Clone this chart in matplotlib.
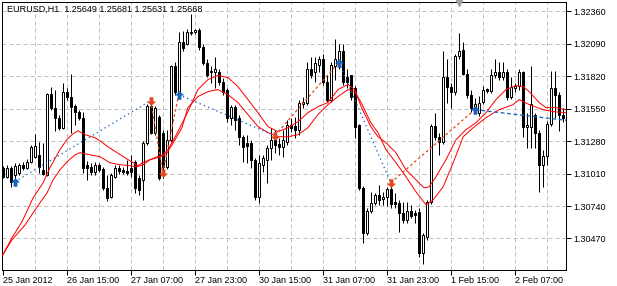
import numpy as np
import matplotlib
matplotlib.use('Agg')
import matplotlib.pyplot as plt
from matplotlib.path import Path
import matplotlib.transforms as mtransforms

# EURUSD H1 bars (25 Jan 2012 23:00 ...)
open_ = [1.31058, 1.30983, 1.31058, 1.31000, 1.31017, 1.31083, 1.31058, 1.31108, 1.31150, 1.31166,
         1.31041, 1.31000, 1.31675, 1.31558, 1.31475, 1.31391, 1.31691, 1.31650, 1.31575, 1.31525,
         1.31475, 1.31083, 1.31066, 1.31025, 1.31083, 1.31050, 1.30891, 1.30816, 1.30983, 1.31058,
         1.31041, 1.31033, 1.31058, 1.31108, 1.30975, 1.30958, 1.31266, 1.31575, 1.31350, 1.31483,
         1.31350, 1.31066, 1.31291, 1.31900, 1.31691, 1.32100, 1.32083, 1.32183, 1.32183, 1.32200,
         1.32058, 1.31933, 1.31850, 1.31858, 1.31858, 1.31775, 1.31708, 1.31475, 1.31566, 1.31475,
         1.31316, 1.31266, 1.31266, 1.31125, 1.30816, 1.31083, 1.31125, 1.31225, 1.31291, 1.31258,
         1.31233, 1.31275, 1.31416, 1.31408, 1.31375, 1.31591, 1.31600, 1.31875, 1.31858, 1.31916,
         1.31966, 1.31775, 1.31625, 1.31900, 1.31933, 1.32025, 1.31816, 1.31825, 1.31725, 1.31416,
         1.30891, 1.30516, 1.30700, 1.30766, 1.30833, 1.30800, 1.30816, 1.30883, 1.30775, 1.30766,
         1.30683, 1.30625, 1.30700, 1.30683, 1.30691, 1.30350, 1.30483, 1.30775, 1.31408, 1.31316,
         1.31275, 1.31816, 1.31733, 1.31691, 1.31983, 1.32033, 1.31841, 1.31666, 1.31541, 1.31516,
         1.31608, 1.31716, 1.31700, 1.31825, 1.31850, 1.31816, 1.31858, 1.31650, 1.31725, 1.31741,
         1.31858, 1.31400, 1.31400, 1.31500, 1.31350, 1.31083, 1.31158, 1.31425, 1.31725, 1.31666,
         1.31500]
high = [1.31075, 1.31083, 1.31075, 1.31100, 1.31100, 1.31108, 1.31133, 1.31250, 1.31342, 1.31275,
        1.31266, 1.31683, 1.31733, 1.31708, 1.31500, 1.31766, 1.31725, 1.31841, 1.31591, 1.31541,
        1.31525, 1.31116, 1.31100, 1.31108, 1.31100, 1.31066, 1.31000, 1.31016, 1.31083, 1.31083,
        1.31066, 1.31125, 1.31166, 1.31125, 1.31000, 1.31283, 1.31591, 1.31625, 1.31575, 1.31500,
        1.31375, 1.31375, 1.31916, 1.31941, 1.32183, 1.32191, 1.32208, 1.32333, 1.32208, 1.32216,
        1.32083, 1.31958, 1.31900, 1.31975, 1.31875, 1.31808, 1.31725, 1.31583, 1.31583, 1.31500,
        1.31333, 1.31333, 1.31291, 1.31141, 1.31166, 1.31166, 1.31250, 1.31391, 1.31375, 1.31308,
        1.31375, 1.31458, 1.31475, 1.31483, 1.31625, 1.31650, 1.31941, 1.31975, 1.31975, 1.31983,
        1.32000, 1.31833, 1.31941, 1.32125, 1.32083, 1.32083, 1.31875, 1.31833, 1.31741, 1.31425,
        1.30908, 1.30725, 1.30858, 1.30850, 1.30916, 1.30858, 1.30900, 1.30933, 1.30850, 1.30791,
        1.30775, 1.30775, 1.30750, 1.30708, 1.30725, 1.30516, 1.30791, 1.31425, 1.31516, 1.31350,
        1.32025, 1.31958, 1.31766, 1.32000, 1.32175, 1.32100, 1.31875, 1.31708, 1.31641, 1.31658,
        1.31741, 1.31725, 1.31875, 1.31958, 1.31941, 1.31941, 1.31875, 1.31816, 1.31766, 1.31875,
        1.31866, 1.31516, 1.31900, 1.31516, 1.31375, 1.31208, 1.31450, 1.31866, 1.31866, 1.31691,
        1.31558]
low = [1.30975, 1.30975, 1.30900, 1.30950, 1.31000, 1.31041, 1.31050, 1.31100, 1.31141, 1.31016,
       1.31000, 1.30991, 1.31541, 1.31366, 1.31375, 1.31383, 1.31625, 1.31350, 1.31416, 1.31458,
       1.31016, 1.30958, 1.31000, 1.31000, 1.31025, 1.30875, 1.30783, 1.30808, 1.30975, 1.31008,
       1.31008, 1.31000, 1.30983, 1.30850, 1.30833, 1.30791, 1.31250, 1.31342, 1.31333, 1.30958,
       1.30975, 1.31050, 1.31275, 1.31666, 1.31666, 1.32025, 1.32075, 1.32158, 1.32166, 1.32041,
       1.31916, 1.31816, 1.31766, 1.31725, 1.31750, 1.31666, 1.31441, 1.31416, 1.31375, 1.31250,
       1.31108, 1.31100, 1.31058, 1.30791, 1.30766, 1.31025, 1.30933, 1.31125, 1.31183, 1.31166,
       1.31150, 1.31250, 1.31358, 1.31308, 1.31333, 1.31558, 1.31583, 1.31808, 1.31775, 1.31858,
       1.31750, 1.31608, 1.31608, 1.31791, 1.31875, 1.31750, 1.31725, 1.31625, 1.31308, 1.30875,
       1.30433, 1.30500, 1.30683, 1.30750, 1.30750, 1.30750, 1.30741, 1.30725, 1.30725, 1.30525,
       1.30600, 1.30600, 1.30641, 1.30600, 1.30316, 1.30258, 1.30458, 1.30758, 1.31291, 1.31166,
       1.31258, 1.31600, 1.31558, 1.31666, 1.31958, 1.31825, 1.31641, 1.31525, 1.31525, 1.31491,
       1.31591, 1.31683, 1.31683, 1.31808, 1.31791, 1.31791, 1.31625, 1.31633, 1.31691, 1.31708,
       1.31316, 1.31225, 1.31225, 1.31225, 1.30858, 1.30900, 1.31083, 1.31408, 1.31475, 1.31366,
       1.31441]
close = [1.30983, 1.31058, 1.30942, 1.31075, 1.31083, 1.31058, 1.31108, 1.31233, 1.31242, 1.31066,
         1.31008, 1.31675, 1.31558, 1.31475, 1.31391, 1.31691, 1.31650, 1.31566, 1.31525, 1.31475,
         1.31058, 1.31058, 1.31025, 1.31083, 1.31041, 1.30891, 1.30808, 1.31000, 1.31058, 1.31033,
         1.31025, 1.31016, 1.31025, 1.30891, 1.30875, 1.31266, 1.31575, 1.31350, 1.31558, 1.30975,
         1.31066, 1.31291, 1.31900, 1.31691, 1.32100, 1.32050, 1.32183, 1.32175, 1.32200, 1.32058,
         1.31933, 1.31833, 1.31866, 1.31875, 1.31775, 1.31691, 1.31475, 1.31566, 1.31458, 1.31316,
         1.31233, 1.31241, 1.31125, 1.30816, 1.31100, 1.31141, 1.31225, 1.31291, 1.31250, 1.31233,
         1.31291, 1.31416, 1.31391, 1.31375, 1.31600, 1.31608, 1.31875, 1.31833, 1.31933, 1.31966,
         1.31775, 1.31625, 1.31916, 1.31958, 1.32025, 1.31775, 1.31775, 1.31650, 1.31400, 1.30891,
         1.30516, 1.30700, 1.30766, 1.30833, 1.30791, 1.30816, 1.30883, 1.30758, 1.30758, 1.30683,
         1.30625, 1.30700, 1.30658, 1.30666, 1.30350, 1.30500, 1.30775, 1.31408, 1.31316, 1.31275,
         1.31816, 1.31733, 1.31691, 1.31983, 1.32025, 1.31841, 1.31666, 1.31558, 1.31591, 1.31600,
         1.31708, 1.31700, 1.31825, 1.31850, 1.31816, 1.31858, 1.31650, 1.31733, 1.31741, 1.31850,
         1.31400, 1.31416, 1.31591, 1.31350, 1.31083, 1.31158, 1.31425, 1.31725, 1.31666, 1.31500,
         1.31475]

# two red moving averages (bar index, price)
ma1_bar = [0, 2.3, 4.8, 7.6, 10.1, 11.8, 14.3, 16, 17.6, 18.8, 20.6, 23, 24.3, 26.3, 28.6, 30.6,
           32.6, 33.8, 35, 36.8, 38.6, 40, 41.3, 43, 44.3, 46.3, 48.8, 51.3, 53.8, 56.3, 58.8,
           61.3, 63.8, 66.3, 68.8, 71.3, 73.8, 76.3, 78.8, 81.3, 83.8, 86.3, 88, 89.6, 92, 93.8,
           95.8, 98.3, 100.8, 103.3, 105.3, 106.6, 108.3, 110.8, 113.3, 115.8, 118.3, 120.8,
           123.3, 125.8, 128.3, 130.1, 131.6, 134.1, 135.8, 138.3, 140.8]
ma1_val = [1.30333, 1.30475, 1.30608, 1.30808, 1.30933, 1.31058, 1.31208, 1.31291, 1.31341,
           1.31366, 1.31333, 1.31308, 1.31283, 1.31233, 1.31183, 1.31141, 1.31100, 1.31075,
           1.31100, 1.31125, 1.31141, 1.31166, 1.31208, 1.31308, 1.31391, 1.31525, 1.31708,
           1.31791, 1.31825, 1.31808, 1.31733, 1.31625, 1.31516, 1.31400, 1.31358, 1.31391,
           1.31441, 1.31516, 1.31566, 1.31600, 1.31708, 1.31750, 1.31708, 1.31566, 1.31400,
           1.31316, 1.31266, 1.31183, 1.31041, 1.30958, 1.30891, 1.30900, 1.30983, 1.31125,
           1.31291, 1.31375, 1.31433, 1.31516, 1.31625, 1.31708, 1.31741, 1.31733, 1.31691,
           1.31600, 1.31558, 1.31558, 1.31541]
ma2_bar = [0, 2.3, 5.6, 8.1, 9.3, 11.1, 12.6, 14.3, 16.1, 18.1, 19.3, 21.8, 24.3, 26.8, 29.3,
           31.8, 33.6, 35.1, 36.8, 38.6, 40.1, 41.1, 43.1, 44.8, 46.3, 48.8, 51.3, 53.8, 56.3,
           58.8, 61.3, 63.8, 66.3, 68.8, 71.3, 73.8, 76.3, 78.8, 81.3, 83.8, 86.3, 88, 89.6, 92,
           93.8, 95.8, 98.3, 100.8, 103.3, 105.8, 107.6, 110.1, 112.6, 115.1, 117.6, 120.8,
           124.1, 127.6, 129.1, 131.6, 135.1, 137.6, 140.8]
ma2_val = [1.30333, 1.30458, 1.30583, 1.30708, 1.30766, 1.30850, 1.30958, 1.31041, 1.31108,
           1.31166, 1.31183, 1.31166, 1.31150, 1.31100, 1.31083, 1.31075, 1.31066, 1.31083,
           1.31125, 1.31150, 1.31158, 1.31183, 1.31291, 1.31391, 1.31558, 1.31650, 1.31691,
           1.31708, 1.31666, 1.31600, 1.31500, 1.31400, 1.31350, 1.31316, 1.31316, 1.31333,
           1.31391, 1.31500, 1.31583, 1.31650, 1.31708, 1.31691, 1.31600, 1.31433, 1.31350,
           1.31208, 1.31100, 1.30983, 1.30858, 1.30750, 1.30791, 1.30900, 1.31100, 1.31316,
           1.31391, 1.31475, 1.31541, 1.31583, 1.31625, 1.31583, 1.31541, 1.31525, 1.31516]

# zigzag style indicator points
zz_bar = [3, 37, 40, 44, 68, 84, 97, 118, 141.5]
zz_val = [1.30941, 1.31616, 1.31016, 1.31666, 1.31325, 1.31933, 1.30933, 1.31541, 1.31450]
zz_kind = ['up', 'down', 'down', 'up', 'down', 'up', 'down', 'up', None]

tick_bars = [0, 16, 32, 48, 64, 80, 96, 112, 128]
tick_text = ['25 Jan 2012', '26 Jan 15:00', '27 Jan 07:00', '27 Jan 23:00', '30 Jan 15:00',
             '31 Jan 07:00', '31 Jan 23:00', '1 Feb 15:00', '2 Feb 07:00']
price_ticks = [1.30470, 1.30740, 1.31010, 1.31280, 1.31550, 1.31820, 1.32090, 1.32360]
header = 'EURUSD,H1  1.25649 1.25681 1.25631 1.25668'

plt.rcParams['font.family'] = ['Liberation Sans', 'DejaVu Sans']
FS = 6.5
PX = 0.72  # one pixel in points at dpi 100

fig = plt.figure(figsize=(6.17, 2.86), dpi=100)
ax = fig.add_axes([2 / 617, 16 / 286, 564 / 617, 268 / 286])

x = np.arange(len(open_))
o = np.array(open_)
c = np.array(close)

# grid
ax.set_xticks(tick_bars)
ax.set_xticks(np.arange(8, 141, 16), minor=True)
ax.set_yticks(price_ticks)
for xv in list(tick_bars[1:]) + list(np.arange(8, 141, 16)):
    ax.axvline(xv, color='#c0c0c0', lw=PX, dashes=(4, 3), zorder=0)
for yv in price_ticks:
    ax.axhline(yv, color='#c0c0c0', lw=PX, dashes=(4, 3), zorder=0)

# candles
ax.vlines(x, low, high, color='black', lw=PX, zorder=2)
up = c >= o
bottoms = np.minimum(o, c)
heights = np.abs(c - o)
ax.bar(x[up], heights[up], bottom=bottoms[up], width=0.5, facecolor='white',
       edgecolor='black', linewidth=PX, zorder=3)
ax.bar(x[~up], heights[~up], bottom=bottoms[~up], width=0.5, facecolor='black',
       edgecolor='black', linewidth=PX, zorder=3)

# moving averages
ax.plot(ma1_bar, ma1_val, color='#ff0000', lw=PX, zorder=4)
ax.plot(ma2_bar, ma2_val, color='#ff0000', lw=PX, zorder=4)

# zigzag segments
blue = '#1565c0'
red = '#e8471c'
for i in range(len(zz_bar) - 1):
    seg_x = [zz_bar[i], zz_bar[i + 1]]
    seg_y = [zz_val[i], zz_val[i + 1]]
    if i == len(zz_bar) - 2:
        ax.plot(seg_x, seg_y, color=blue, lw=PX * 1.3, dashes=(3, 2), zorder=5)
    elif zz_kind[i] == 'up':
        ax.plot(seg_x, seg_y, color=blue, lw=PX * 1.3, dashes=(1, 2.5), zorder=5)
    else:
        ax.plot(seg_x, seg_y, color=red, lw=PX * 1.3, dashes=(2, 2), zorder=5)

arrow_up = Path([(0, 1), (-1, 0.1), (-0.4, 0.1), (-0.4, -1), (0.4, -1), (0.4, 0.1), (1, 0.1), (0, 1)])
arrow_dn = Path([(0, -1), (-1, -0.1), (-0.4, -0.1), (-0.4, 1), (0.4, 1), (0.4, -0.1), (1, -0.1), (0, -1)])
for b, v, k in zip(zz_bar, zz_val, zz_kind):
    if k == 'up':
        ax.plot(b, v, marker=arrow_up, ms=5.5, color=blue, mec=blue, mew=0.5, zorder=6)
    elif k == 'down':
        ax.plot(b, v, marker=arrow_dn, ms=5.5, color=red, mec=red, mew=0.5, zorder=6)

# chart shift marker at the top
trans = mtransforms.blended_transform_factory(ax.transData, ax.transAxes)
ax.plot(114, 0.995, marker='v', ms=5, color='#a0a0a0', transform=trans, clip_on=False, zorder=7)

ax.set_xlim(-0.175, 140.8)
ax.set_ylim(1.30208, 1.32436)

ax.set_xticklabels(tick_text, fontsize=FS, ha='left')
ax.yaxis.tick_right()
ax.set_yticklabels(['%.5f' % p for p in price_ticks], fontsize=FS)
ax.tick_params(axis='x', which='major', length=5 * PX, width=PX, pad=1, direction='out')
ax.tick_params(axis='x', which='minor', length=0)
ax.tick_params(axis='y', length=5 * PX, width=PX, pad=1.5, direction='out')
for s in ax.spines.values():
    s.set_linewidth(PX)

fig.text(7 / 617, 1 - 9.5 / 286, header, fontsize=FS, va='center', ha='left')

fig.savefig('out.png', dpi=100, facecolor='white')
